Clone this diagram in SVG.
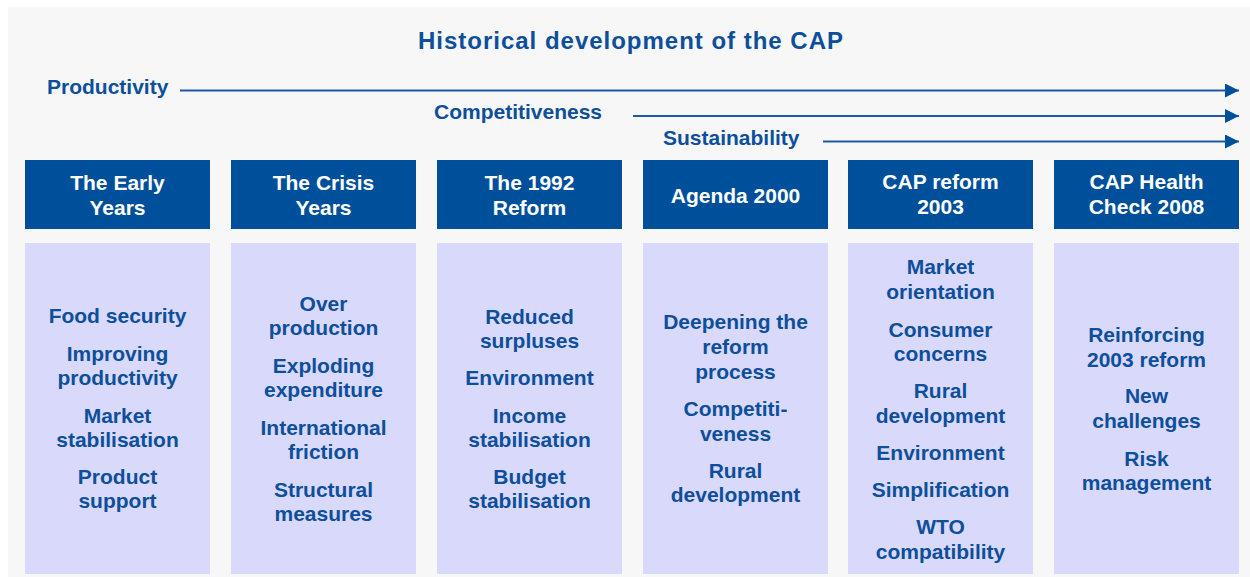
<svg xmlns="http://www.w3.org/2000/svg" width="1250" height="577" viewBox="0 0 1250 577">
  <style>
    .bg { fill: #f7f7f7; }
    .head { fill: #004f9a; }
    .body { fill: #d9d9fc; }
    text { font-family: "Liberation Sans", Arial, sans-serif; font-weight: bold; }
    .title { font-size: 24px; fill: #0d4f9a; }
    .lbl { font-size: 21px; fill: #0d4f9a; }
    .ht { font-size: 21px; fill: #ffffff; text-anchor: middle; }
    .bt { font-size: 21px; fill: #0d4f9a; text-anchor: middle; }
    .arrow { stroke: #1a5aa8; stroke-width: 2; fill: none; }
  </style>
  <defs>
    <marker id="ah" markerUnits="userSpaceOnUse" markerWidth="16" markerHeight="16" refX="14" refY="7" orient="auto">
      <path d="M0,0 L14,7 L0,14 Z" fill="#004f9a"/>
    </marker>
  </defs>

  <rect class="bg" x="8" y="7" width="1242" height="570"/>

  <text class="title" x="418" y="49" textLength="425" lengthAdjust="spacing">Historical development of the CAP</text>

  <!-- policy goal timelines -->
  <g id="goals">
    <text class="lbl" x="47" y="94">Productivity</text>
    <text class="lbl" x="434" y="119">Competitiveness</text>
    <text class="lbl" x="663" y="145">Sustainability</text>
  </g>
  <g id="connectors">
    <line class="arrow" x1="180" y1="90.5" x2="1239" y2="90.5" marker-end="url(#ah)"/>
    <line class="arrow" x1="633" y1="116" x2="1239" y2="116" marker-end="url(#ah)"/>
    <line class="arrow" x1="823" y1="141.5" x2="1239" y2="141.5" marker-end="url(#ah)"/>
  </g>

  <!-- periods -->
  <g id="early-years">
    <rect class="head" x="25" y="160" width="185" height="69"/>
    <text class="ht" x="117.5" y="190">The Early</text>
    <text class="ht" x="117.5" y="215">Years</text>
    <rect class="body" x="25" y="243" width="185" height="331"/>
    <text class="bt" x="117.5" y="323">Food security</text>
    <text class="bt" x="117.5" y="361">Improving</text>
    <text class="bt" x="117.5" y="385">productivity</text>
    <text class="bt" x="117.5" y="423">Market</text>
    <text class="bt" x="117.5" y="447">stabilisation</text>
    <text class="bt" x="117.5" y="484">Product</text>
    <text class="bt" x="117.5" y="508">support</text>
  </g>

  <g id="crisis-years">
    <rect class="head" x="231" y="160" width="185" height="69"/>
    <text class="ht" x="323.5" y="190">The Crisis</text>
    <text class="ht" x="323.5" y="215">Years</text>
    <rect class="body" x="231" y="243" width="185" height="331"/>
    <text class="bt" x="323.5" y="311">Over</text>
    <text class="bt" x="323.5" y="335">production</text>
    <text class="bt" x="323.5" y="373">Exploding</text>
    <text class="bt" x="323.5" y="397">expenditure</text>
    <text class="bt" x="323.5" y="435">International</text>
    <text class="bt" x="323.5" y="459">friction</text>
    <text class="bt" x="323.5" y="497">Structural</text>
    <text class="bt" x="323.5" y="521">measures</text>
  </g>

  <g id="reform-1992">
    <rect class="head" x="437" y="160" width="185" height="69"/>
    <text class="ht" x="529.5" y="190">The 1992</text>
    <text class="ht" x="529.5" y="215">Reform</text>
    <rect class="body" x="437" y="243" width="185" height="331"/>
    <text class="bt" x="529.5" y="324">Reduced</text>
    <text class="bt" x="529.5" y="348">surpluses</text>
    <text class="bt" x="529.5" y="385">Environment</text>
    <text class="bt" x="529.5" y="423">Income</text>
    <text class="bt" x="529.5" y="447">stabilisation</text>
    <text class="bt" x="529.5" y="484">Budget</text>
    <text class="bt" x="529.5" y="508">stabilisation</text>
  </g>

  <g id="agenda-2000">
    <rect class="head" x="643" y="160" width="185" height="69"/>
    <text class="ht" x="735.5" y="203">Agenda 2000</text>
    <rect class="body" x="643" y="243" width="185" height="331"/>
    <text class="bt" x="735.5" y="329">Deepening the</text>
    <text class="bt" x="735.5" y="354">reform</text>
    <text class="bt" x="735.5" y="379">process</text>
    <text class="bt" x="735.5" y="416">Competiti-</text>
    <text class="bt" x="735.5" y="441">veness</text>
    <text class="bt" x="735.5" y="478">Rural</text>
    <text class="bt" x="735.5" y="502">development</text>
  </g>

  <g id="reform-2003">
    <rect class="head" x="848" y="160" width="185" height="69"/>
    <text class="ht" x="940.5" y="189">CAP reform</text>
    <text class="ht" x="940.5" y="214">2003</text>
    <rect class="body" x="848" y="243" width="185" height="331"/>
    <text class="bt" x="940.5" y="274">Market</text>
    <text class="bt" x="940.5" y="299">orientation</text>
    <text class="bt" x="940.5" y="337">Consumer</text>
    <text class="bt" x="940.5" y="361">concerns</text>
    <text class="bt" x="940.5" y="398">Rural</text>
    <text class="bt" x="940.5" y="423">development</text>
    <text class="bt" x="940.5" y="460">Environment</text>
    <text class="bt" x="940.5" y="497">Simplification</text>
    <text class="bt" x="940.5" y="534">WTO</text>
    <text class="bt" x="940.5" y="559">compatibility</text>
  </g>

  <g id="health-check-2008">
    <rect class="head" x="1054" y="160" width="185" height="69"/>
    <text class="ht" x="1146.5" y="189">CAP Health</text>
    <text class="ht" x="1146.5" y="214">Check 2008</text>
    <rect class="body" x="1054" y="243" width="185" height="331"/>
    <text class="bt" x="1146.5" y="342">Reinforcing</text>
    <text class="bt" x="1146.5" y="367">2003 reform</text>
    <text class="bt" x="1146.5" y="403">New</text>
    <text class="bt" x="1146.5" y="428">challenges</text>
    <text class="bt" x="1146.5" y="466">Risk</text>
    <text class="bt" x="1146.5" y="490">management</text>
  </g>
</svg>
